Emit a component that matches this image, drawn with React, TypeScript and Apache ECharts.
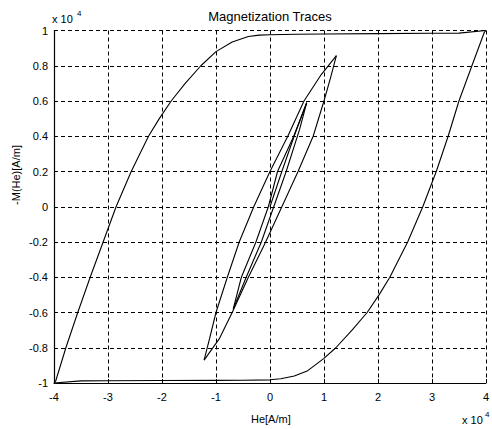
import React, { useEffect, useRef } from "react";
import * as echarts from "echarts";

// x values in units of 1e4 A/m, y values in units of 1e4 A/m
const xTicks = [-4, -3, -2, -1, 0, 1, 2, 3, 4];
const yTicks = [-1, -0.8, -0.6, -0.4, -0.2, 0, 0.2, 0.4, 0.6, 0.8, 1];

// major loop, descending branch (from +4 to -4)
const majorDescX = [4, 3.5, 3, 2, 1, 0.5, 0, -0.2, -0.4, -0.7, -1.0, -1.28, -1.57, -1.83, -2.05, -2.25, -2.57, -2.85, -3.09, -3.33, -3.56, -3.78, -3.97, -4];
const majorDescY = [1, 0.985, 0.984, 0.982, 0.98, 0.979, 0.976, 0.974, 0.966, 0.935, 0.88, 0.8, 0.7, 0.6, 0.5, 0.4, 0.2, 0, -0.2, -0.4, -0.6, -0.8, -0.99, -1];

// major loop, ascending branch (from -4 to +4)
const majorAscX = [-4, -3.5, -3, -2, -1, -0.5, 0, 0.2, 0.45, 0.7, 1.0, 1.22, 1.52, 1.8, 2.02, 2.22, 2.55, 2.83, 3.08, 3.3, 3.5, 3.74, 3.97, 4];
const majorAscY = [-1, -0.988, -0.987, -0.986, -0.985, -0.984, -0.982, -0.976, -0.96, -0.93, -0.86, -0.8, -0.7, -0.6, -0.5, -0.4, -0.2, 0, 0.2, 0.4, 0.6, 0.8, 0.99, 1];

// large minor loop
const minor1DescX = [1.23, 0.95, 0.63, 0.33, 0.0, -0.3, -0.57, -0.79, -1.0, -1.12, -1.22];
const minor1DescY = [0.857, 0.75, 0.6, 0.4, 0.2, 0, -0.2, -0.4, -0.6, -0.75, -0.87];
const minor1AscX = [-1.22, -0.94, -0.7, -0.4, -0.08, 0.22, 0.52, 0.8, 1.0, 1.12, 1.23];
const minor1AscY = [-0.87, -0.75, -0.6, -0.4, -0.2, 0, 0.2, 0.4, 0.6, 0.73, 0.857];

// small minor loop
const minor2DescX = [0.68, 0.44, 0.14, -0.03, -0.26, -0.53, -0.68];
const minor2DescY = [0.59, 0.4, 0.2, 0, -0.2, -0.4, -0.58];
const minor2AscX = [-0.68, -0.44, -0.16, 0.07, 0.3, 0.55, 0.68];
const minor2AscY = [-0.58, -0.4, -0.2, 0, 0.2, 0.44, 0.59];

// initial magnetization curve
const initialX = [0, 0.22, 0.47, 0.68];
const initialY = [0, 0.2, 0.42, 0.59];

const branches = [
  [majorDescX, majorDescY],
  [majorAscX, majorAscY],
  [minor1DescX, minor1DescY],
  [minor1AscX, minor1AscY],
  [minor2DescX, minor2DescY],
  [minor2AscX, minor2AscY],
  [initialX, initialY],
];

const FONT = "Liberation Sans, Arial, sans-serif";

export default function App() {
  const ref = useRef<HTMLDivElement>(null);
  useEffect(() => {
    if (!ref.current) return;
    const chart = echarts.init(ref.current, undefined, { renderer: "svg" });
    const fmt = (v: number) => String(Math.round(v * 10) / 10);
    chart.setOption({
      animation: false,
      backgroundColor: "#ffffff",
      title: {
        text: "Magnetization Traces",
        left: 265,
        top: 5,
        textAlign: "center",
        textStyle: { fontFamily: FONT, fontSize: 13, fontWeight: "normal", color: "#000" },
      },
      grid: { left: 54, right: 4, top: 30.5, bottom: 46, containLabel: false },
      xAxis: {
        type: "value",
        min: xTicks[0],
        max: xTicks[xTicks.length - 1],
        interval: 1,
        axisLine: { show: true, onZero: false, lineStyle: { color: "#000", width: 1.2 } },
        axisTick: { show: true, inside: true, length: 4, lineStyle: { color: "#000" } },
        axisLabel: { color: "#000", fontFamily: FONT, fontSize: 11, margin: 8, formatter: fmt },
        splitLine: { show: true, lineStyle: { color: "#000", type: [4, 3], width: 1 } },
      },
      yAxis: {
        type: "value",
        min: yTicks[0],
        max: yTicks[yTicks.length - 1],
        interval: 0.2,
        axisLine: { show: true, onZero: false, lineStyle: { color: "#000", width: 1.2 } },
        axisTick: { show: true, inside: true, length: 4, lineStyle: { color: "#000" } },
        axisLabel: { color: "#000", fontFamily: FONT, fontSize: 11, margin: 6, formatter: fmt },
        splitLine: { show: true, lineStyle: { color: "#000", type: [4, 3], width: 1 } },
      },
      graphic: [
        { type: "text", left: 52, top: 13, style: { text: "x 10", font: `11px ${FONT}`, fill: "#000" } },
        { type: "text", left: 77, top: 9, style: { text: "4", font: `8px ${FONT}`, fill: "#000" } },
        { type: "text", left: 462, top: 414, style: { text: "x 10", font: `11px ${FONT}`, fill: "#000" } },
        { type: "text", left: 485, top: 410, style: { text: "4", font: `8px ${FONT}`, fill: "#000" } },
        { type: "text", left: 251, top: 413, style: { text: "He[A/m]", font: `11px ${FONT}`, fill: "#000" } },
        {
          type: "text",
          x: 16,
          y: 175,
          rotation: Math.PI / 2,
          style: { text: "-M(He)[A/m]", font: `11px ${FONT}`, fill: "#000", align: "center", verticalAlign: "middle" },
        },
      ],
      series: branches.map(([xs, ys], i) => ({
        type: "line",
        name: "b" + i,
        data: xs.map((x, j) => [x, ys[j]]),
        showSymbol: false,
        smooth: false,
        lineStyle: { color: "#000", width: 1.1 },
        z: 5,
      })),
    });
    return () => chart.dispose();
  }, []);
  return <div ref={ref} style={{ width: 492, height: 429, position: "absolute", left: 0, top: 0 }} />;
}
